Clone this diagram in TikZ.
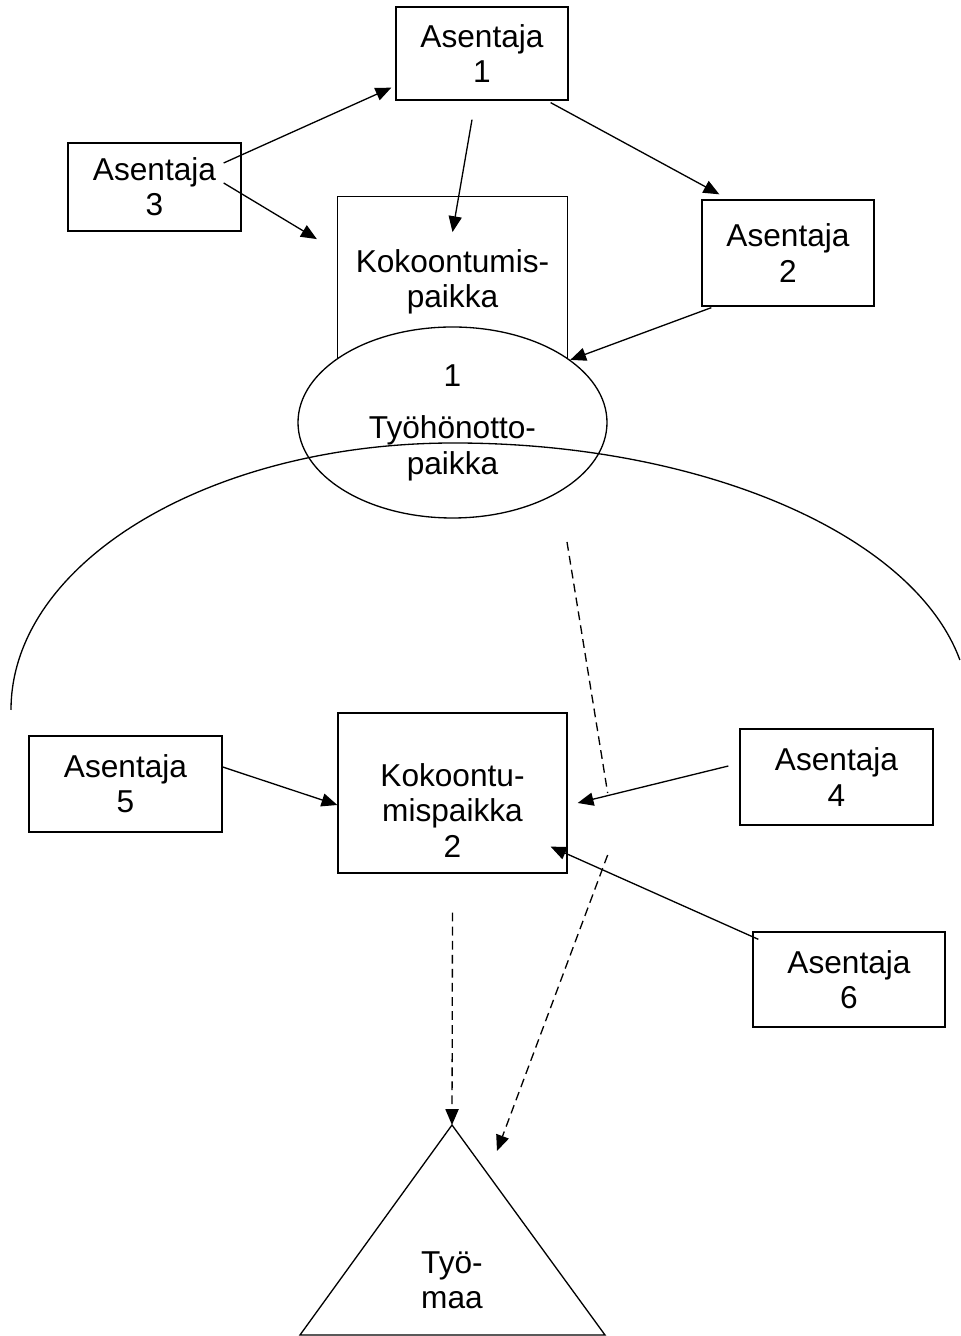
\documentclass[tikz,border=0pt]{standalone}
\usepackage{fontspec}
\setmainfont{Liberation Sans}
\usepackage{tikz}
\usetikzlibrary{positioning,calc,shapes.geometric,arrows.meta}

\begin{document}
\begin{tikzpicture}[
		box/.style={draw, line width=0.75pt, align=center, inner sep=0pt, font=\fontsize{18}{20}\selectfont},
		oval/.style={draw, ellipse, fill=white, line width=0.75pt, align=center, inner sep=0pt, font=\fontsize{18}{20}\selectfont},
		arr/.style={-{Triangle[length=9pt,width=7.5pt]}, line width=0.75pt},
		dashline/.style={dash pattern=on 5pt off 3pt, line width=0.75pt}
		]
		\useasboundingbox (0,0) rectangle (19.22,26.72);
		
		% ===== Asentajat 1..6 =====
		\foreach \n/\x/\y/\w/\h in {1/9.64/25.65/3.44/1.86, 3/3.09/22.98/3.46/1.76, 2/15.76/21.66/3.44/2.12,
			5/2.51/11.04/3.86/1.92, 4/16.73/11.18/3.86/1.92, 6/16.98/7.13/3.84/1.90}{
			\node[box, minimum width=\w cm, minimum height=\h cm] (a\n) at (\x,\y) {Asentaja\\\n};
		}
		
		% ===== kokoontumispaikka 1 + työhönottopaikka =====
		\node[box, minimum width=4.60cm, minimum height=3.43cm] (k1) at (9.05,21.08) {Kokoontumis-\\paikka};
		\node[oval, minimum width=6.18cm, minimum height=3.82cm] (t1) at (9.05,18.27) {1\\[10pt]Työhönotto-\\paikka};
		
		% ===== iso kaari =====
		\coordinate (arcL) at (0.22,12.52);
		\draw[line width=0.75pt] (arcL)
		arc[start angle=180, end angle=90, x radius=8.86, y radius=5.34]
		arc[start angle=90, end angle=10.8, x radius=10.3, y radius=5.34];
		
		% ===== nuolet ylhäällä =====
		\draw[arr] ($(a3.east)+(-0.36,0.48)$) -- ($(a1.south west)+(-0.08,0.26)$);
		\draw[arr] ($(a3.east)+(-0.36,0.08)$) -- ($(k1.north west)+(-0.40,-0.87)$);
		\draw[arr] ($(a1.south)+(-0.20,-0.38)$) -- ($(k1.north)+(0,-0.73)$);
		\draw[arr] ($(a1.south east)+(-0.36,-0.04)$) -- ($(a2.north west)+(0.36,0.10)$);
		\draw[arr] ($(a2.south west)+(0.20,-0.02)$) -- (t1.28);
		
		% ===== kokoontumispaikka 2 =====
		\node[box, minimum width=4.58cm, minimum height=3.20cm] (k2) at (9.05,10.86) {\rule{0pt}{33pt}Kokoontu-\\mispaikka\\2};
		\draw[arr] ($(a5.east)+(0,0.34)$) -- ($(k2.west)+(0,-0.24)$);
		\draw[arr] ($(a4.west)+(-0.22,0.22)$) -- ($(k2.east)+(0.20,-0.20)$);
		\draw[arr] ($(a6.north west)+(0.12,-0.16)$) -- ($(k2.south east)+(-0.34,0.54)$);
		
		% ===== työmaa =====
		\coordinate (tmTop) at (9.04,4.22);
		\draw[line width=0.75pt] (tmTop) -- (6.00,0.02) -- (12.10,0.02) -- cycle;
		\node[font=\fontsize{18}{20}\selectfont, align=center, inner sep=0pt] (tm) at (9.04,1.12) {Työ-\\maa};
		
		% ===== katkoviivat =====
		\coordinate (d1) at (11.34,15.88);
		\coordinate (d2) at ($(k2.east)+(0.80,0)$);
		\draw[dashline] (d1) -- (d2);
		\draw[dashline, arr] ($(k2.east)+(0.80,-1.24)$) -- ($(tmTop)+(0.90,-0.52)$);
		\draw[dashline, arr] ($(k2.south)+(0,-0.78)$) -- (tmTop);
		
	\end{tikzpicture}
\end{document}
